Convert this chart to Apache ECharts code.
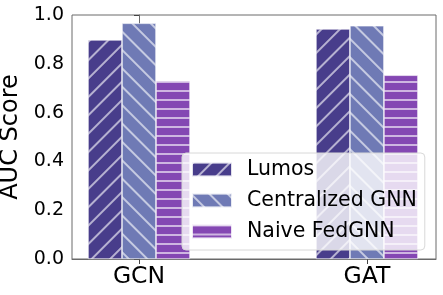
<!DOCTYPE html>
<html><head><meta charset="utf-8">
<script src="https://cdn.jsdelivr.net/npm/echarts@6/dist/echarts.min.js"></script>
<style>html,body{margin:0;padding:0;background:#fff}#c{width:443px;height:295px}</style>
</head><body><div id="c"></div>
<script>
const categories = ['GCN', 'GAT'];
const seriesNames = ['Lumos', 'Centralized GNN', 'Naive FedGNN'];
const lumos = [0.898, 0.943];
const centralized = [0.966, 0.956];
const naive = [0.730, 0.753];
const yTicks = [0.0, 0.2, 0.4, 0.6, 0.8, 1.0];

const colors = ['#483d8b', '#6f7ab5', '#8447b3'];
const hatchColor = 'rgba(255,255,255,0.6)';
const decals = [
  { symbol: 'rect', symbolSize: 1, dashArrayX: [1, 0], dashArrayY: [1.2, 10.2], rotation: -Math.PI / 4, color: hatchColor },
  { symbol: 'rect', symbolSize: 1, dashArrayX: [1, 0], dashArrayY: [1.2, 10.2], rotation: Math.PI / 4, color: hatchColor },
  { symbol: 'rect', symbolSize: 1, dashArrayX: [1, 0], dashArrayY: [1.2, 6.8], rotation: 0, color: hatchColor }
];
const values = [lumos, centralized, naive];
const font = 'DejaVu Sans';

const chart = echarts.init(document.getElementById('c'), null, { renderer: 'canvas' });
chart.setOption({
  animation: false,
  backgroundColor: '#fff',
  grid: { left: 72, right: 7, top: 15, bottom: 36, show: true, borderColor: '#6a6a6a', borderWidth: 1, backgroundColor: 'transparent', containLabel: false, outerBoundsMode: 'none' },
  legend: {
    orient: 'vertical', left: 182, top: 153,
    itemWidth: 40, itemHeight: 14, itemGap: 10, padding: [6, 8, 8, 9],
    backgroundColor: 'rgba(255,255,255,0.8)', borderColor: '#d8d8d8', borderWidth: 1, borderRadius: 4,
    icon: 'rect',
    textStyle: { fontFamily: font, fontSize: 20.5, color: '#000', padding: [0, 0, 0, 10] },
    data: seriesNames
  },
  xAxis: {
    type: 'value', min: -0.294, max: 1.303,
    splitLine: { show: false },
    axisLine: { show: true, lineStyle: { color: '#6a6a6a' } },
    axisTick: { show: true, length: 5, customValues: categories.map((c, i) => i), lineStyle: { color: '#444' } },
    axisLabel: { customValues: categories.map((c, i) => i), formatter: v => categories[Math.round(v)], fontFamily: font, fontSize: 23.5, color: '#000', margin: 6 }
  },
  yAxis: {
    type: 'value', min: 0, max: 1, interval: 0.2,
    name: 'AUC Score', nameLocation: 'middle', nameGap: 44,
    nameTextStyle: { fontFamily: font, fontSize: 24, color: '#000' },
    splitLine: { show: false },
    axisLine: { show: true, lineStyle: { color: '#6a6a6a' } },
    axisTick: { show: true, length: 5, lineStyle: { color: '#444' } },
    axisLabel: { customValues: yTicks, formatter: v => v.toFixed(1), fontFamily: font, fontSize: 19, color: '#000', margin: 8 }
  },
  series: seriesNames.map((name, k) => ({
    name, type: 'bar',
    data: categories.map((c, i) => [i, values[k][i]]),
    barWidth: 34, barGap: '0%',
    itemStyle: { color: colors[k], borderColor: 'rgba(255,255,255,0.6)', borderWidth: 0.6, decal: decals[k] }
  }))
});
</script>
</body></html>
